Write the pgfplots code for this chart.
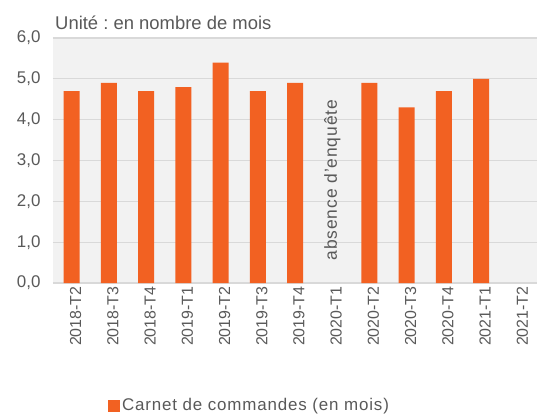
\documentclass[border=0pt]{standalone}
\usepackage{pgfplots}
\pgfplotsset{compat=1.18}
\usepackage{fontspec}
\setmainfont{Liberation Sans}
\frenchspacing
\definecolor{barorange}{HTML}{F26122}
\definecolor{plotbg}{HTML}{F2F2F2}
\definecolor{gridgray}{HTML}{D9D9D9}
\definecolor{txt}{HTML}{595959}
\begin{document}
\begin{tikzpicture}[x=1bp,y=1bp]
\path[use as bounding box] (-53,-133) rectangle (484,283);
\begin{axis}[
    at={(0,0)}, anchor=south west,
    scale only axis, clip=false,
    width=484bp, height=245bp,
    ybar, bar width=16bp,
    xmin=-0.5, xmax=12.5,
    ymin=0, ymax=6,
    ytick={0,1,2,3,4,5,6},
    xtick={0,...,12},
    xticklabels={2018-T2,2018-T3,2018-T4,2019-T1,2019-T2,2019-T3,2019-T4,2020-T1,2020-T2,2020-T3,2020-T4,2021-T1,2021-T2},
    xticklabel style={rotate=90, anchor=east, font=\fontsize{16}{18}\selectfont, text=txt, yshift=-4bp},
    yticklabel style={font=\fontsize{17}{19}\selectfont, text=txt, xshift=-9bp},
    /pgf/number format/.cd, fixed, fixed zerofill, precision=1, use comma, assume math mode=true,
    /pgfplots/.cd,
    axis background/.style={fill=plotbg},
    ymajorgrids, grid style={gridgray, line width=1.2pt},
    axis x line*=bottom, axis y line*=left,
    x axis line style={gridgray, line width=1.5pt, -},
    y axis line style={draw=none},
    major tick length=0pt,
    legend style={at={(0.406,-0.5)}, anchor=center, draw=none, fill=none,
        font=\fontsize{17}{19}\selectfont\addfontfeature{LetterSpace=5}, text=txt},
    legend image code/.code={\fill[barorange] (0bp,-6bp) rectangle (12bp,6bp);},
]
\addplot[fill=barorange, draw=none] coordinates {
(0,4.7) (1,4.9) (2,4.7) (3,4.8) (4,5.4) (5,4.7) (6,4.9)
(8,4.9) (9,4.3) (10,4.7) (11,5.0)
};
\addlegendentry{Carnet de commandes (en mois)}
\node[rotate=90, text=txt, font=\fontsize{17.5}{19}\selectfont\addfontfeature{LetterSpace=5}] at (axis cs:7,2.52) {absence d’enquête};
\node[anchor=south west, text=txt, font=\fontsize{18.5}{20}\selectfont, inner sep=0pt] at ([xshift=2bp,yshift=8bp]rel axis cs:0,1) {Unité : en nombre de mois};
\end{axis}
\end{tikzpicture}
\end{document}
